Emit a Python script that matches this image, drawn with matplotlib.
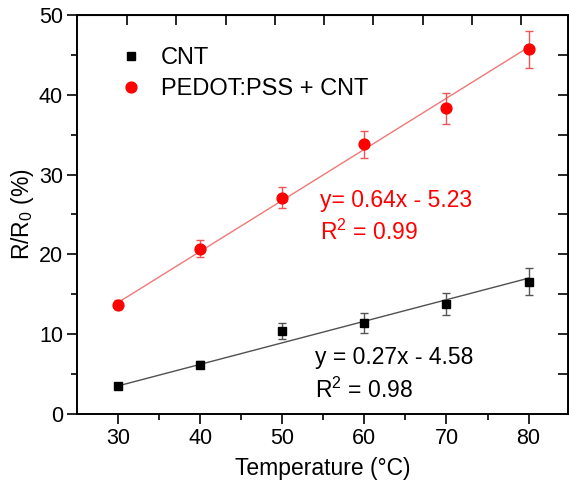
import matplotlib
matplotlib.use("Agg")
import matplotlib.pyplot as plt
from matplotlib.lines import Line2D
import numpy as np

plt.rcParams['font.family'] = ['Liberation Sans', 'DejaVu Sans']

temps = [30, 40, 50, 60, 70, 80]
cnt_vals = [3.5, 6.2, 10.4, 11.4, 13.8, 16.6]
cnt_err = [0.3, 0.4, 1.05, 1.2, 1.4, 1.7]
ped_vals = [13.7, 20.7, 27.1, 33.8, 38.3, 45.7]
ped_err = [0.6, 1.05, 1.3, 1.7, 1.9, 2.3]
cnt_fit = (0.27, -4.58)
ped_fit = (0.64, -5.23)

fig = plt.figure(figsize=(5.69, 4.86), dpi=100)
ax = fig.add_axes([77/569, 72/486, 491/569, 399/486])

xf = np.array([temps[0], temps[-1]], dtype=float)
ax.plot(xf, ped_fit[0]*xf + ped_fit[1], color='#f07878', lw=1.0, zorder=2)
ax.plot(xf, cnt_fit[0]*xf + cnt_fit[1], color='#505050', lw=1.0, zorder=2)

ax.errorbar(temps, cnt_vals, yerr=cnt_err, fmt='s', color='black', ms=6.2,
            ecolor='#555555', elinewidth=1, capsize=3, capthick=1, zorder=3)
ax.errorbar(temps, ped_vals, yerr=ped_err, fmt='o', color='red', ms=7.8,
            ecolor='#ee5555', elinewidth=1, capsize=3, capthick=1, zorder=3)

ax.set_xlim(25, 84.8)
ax.set_ylim(0, 50)
ax.set_xticks([30, 40, 50, 60, 70, 80])
ax.set_xticks([35, 45, 55, 65, 75], minor=True)
ax.set_yticks([0, 10, 20, 30, 40, 50])
ax.set_yticks([5, 15, 25, 35, 45], minor=True)
ax.tick_params(axis='both', which='major', direction='out', length=7, width=1.2,
               labelsize=15.5, pad=3)
ax.tick_params(axis='both', which='minor', direction='out', length=4, width=1.2)
for s in ax.spines.values():
    s.set_linewidth(1.4)

# mirrored ticks on top and right (inward, no labels)
axt = ax.secondary_xaxis('top')
axt.set_xticks([31.1 + 6*k for k in range(9)])
axt.tick_params(direction='in', length=7, width=1.2, labeltop=False)
axt.set_xticklabels([])
axr = ax.secondary_yaxis('right')
axr.set_yticks([5*k for k in range(1, 10)])
axr.tick_params(direction='in', length=7, width=1.2, labelright=False)
axr.set_yticklabels([])

ax.set_xlabel('Temperature (\u00b0C)', fontsize=16.5, labelpad=6)
ax.set_ylabel('R/R$_\\mathregular{0}$ (%)', fontsize=16.5, labelpad=2)

ax.text(54.6, 26.8, 'y= 0.64x - 5.23', color='red', fontsize=16.5, ha='left', va='center')
ax.text(54.6, 22.8, 'R$^\\mathregular{2}$ = 0.99', color='red', fontsize=16.5, ha='left', va='center')
ax.text(54.0, 7.1, 'y = 0.27x - 4.58', color='black', fontsize=16.5, ha='left', va='center')
ax.text(54.0, 3.0, 'R$^\\mathregular{2}$ = 0.98', color='black', fontsize=16.5, ha='left', va='center')

handles = [Line2D([], [], ls='none', marker='s', color='black', ms=6.2),
           Line2D([], [], ls='none', marker='o', color='red', ms=7.8)]
ax.legend(handles, ['CNT', 'PEDOT:PSS + CNT'], loc='upper left',
          bbox_to_anchor=(0.085, 0.92), frameon=False, fontsize=17,
          handletextpad=0.8, labelspacing=0.38, handlelength=1.0,
          borderaxespad=0, borderpad=0)

fig.savefig('out.png', dpi=100)
